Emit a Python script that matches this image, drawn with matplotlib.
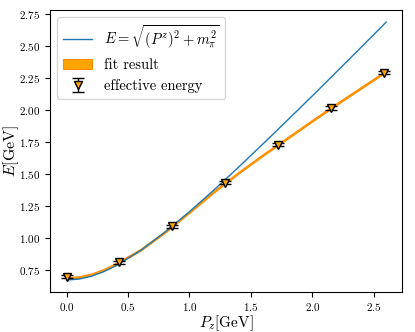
import numpy as np
import matplotlib
matplotlib.use("Agg")
import matplotlib.pyplot as plt

plt.rcParams['font.family'] = 'serif'
plt.rcParams['font.serif'] = ['cmr10']
plt.rcParams['mathtext.fontset'] = 'cm'
plt.rcParams['axes.formatter.use_mathtext'] = True

# effective energy points
pz = [0.0, 0.43, 0.86, 1.29, 1.72, 2.15, 2.58]
e_eff = [0.695, 0.808, 1.090, 1.430, 1.728, 2.015, 2.290]
e_err = [0.012, 0.010, 0.010, 0.012, 0.012, 0.014, 0.014]

# continuum dispersion curve
p_curve = [0.0, 0.1, 0.2, 0.3, 0.4, 0.6, 0.8, 1.0, 1.2, 1.4, 1.6, 1.8, 2.0, 2.2, 2.4, 2.6]
e_disp = [0.670, 0.677, 0.699, 0.734, 0.780, 0.899, 1.044, 1.204, 1.374, 1.552,
          1.735, 1.921, 2.109, 2.300, 2.492, 2.685]

# fit result band (central value and half width)
e_fit = [0.685, 0.692, 0.714, 0.748, 0.795, 0.905, 1.045, 1.202, 1.362, 1.509,
         1.649, 1.782, 1.916, 2.047, 2.175, 2.302]
fit_err = 0.007

fig = plt.figure(figsize=(4.15, 3.32), dpi=100)
ax = fig.add_axes([0.12, 0.12, 0.849, 0.85])

ax.plot(p_curve, e_disp, color='tab:blue', lw=1.0,
        label=r'$E=\sqrt{(P^z)^2+m_\pi^2}$')
ax.fill_between(p_curve, np.array(e_fit) - fit_err, np.array(e_fit) + fit_err,
                color='orange', lw=0.8, edgecolor='darkorange', label='fit result')
ax.errorbar(pz, e_eff, yerr=e_err, fmt='v', color='black', mfc='orange',
            mec='black', ms=6, capsize=4, elinewidth=1, zorder=5,
            label='effective energy')

ax.set_xlabel(r'$P_z[\mathrm{GeV}]$', fontsize=11)
ax.set_ylabel(r'$E[\mathrm{GeV}]$', fontsize=11.5)
ax.xaxis.set_label_coords(0.5, -0.074)
ax.yaxis.set_label_coords(-0.082, 0.5)
ax.set_yticks([0.75, 1.0, 1.25, 1.5, 1.75, 2.0, 2.25, 2.5, 2.75])
ax.tick_params(labelsize=8)
ax.tick_params(axis='x', pad=3)
ax.set_ylim(0.575, 2.78)
ax.set_xlim(-0.136, 2.73)
ax.legend(loc='upper left', fontsize=10.5)

fig.savefig('out.png', dpi=100)
